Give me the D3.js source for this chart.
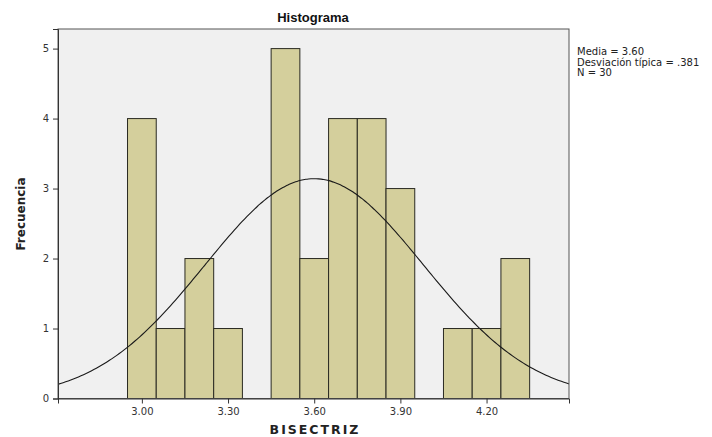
<!DOCTYPE html>
<html>
<head>
<meta charset="utf-8">
<script src="https://cdn.jsdelivr.net/npm/d3@7"></script>
<style>
  body { margin: 0; background: #fff; }
  svg { display: block; font-family: "DejaVu Sans", Arial, sans-serif; }
</style>
</head>
<body>
<div id="chart"></div>
<script>
// ── Data ─────────────────────────────────────────────────────────────────────
const binCenters = [3.0, 3.1, 3.2, 3.3, 3.4, 3.5, 3.6, 3.7, 3.8, 3.9, 4.0, 4.1, 4.2, 4.3];
const binCounts  = [4,   1,   2,   1,   0,   5,   2,   4,   4,   3,   0,   1,   1,   2];
const binWidth   = 0.1;
const xTicks     = [3.0, 3.3, 3.6, 3.9, 4.2];
const yTicks     = [0, 1, 2, 3, 4, 5];
const stats      = { mean: 3.60, sd: 0.381, n: 30 };
const statLines  = ["Media = 3.60", "Desviación típica = .381", "N = 30"];

(function () {
  "use strict";

  const W = 712, H = 437;
  const margin = { top: 29, right: 143, bottom: 38.5, left: 58 };
  const FONT = "'DejaVu Sans', Arial, sans-serif";

  const svg = d3.select("#chart").append("svg")
    .attr("width", W).attr("height", H);

  const x = d3.scaleLinear().domain([2.708, 4.487]).range([margin.left, W - margin.right]);
  const y = d3.scaleLinear().domain([0, 5.28]).range([H - margin.bottom, margin.top]);

  // plot background
  svg.append("rect")
    .attr("x", margin.left).attr("y", margin.top)
    .attr("width", W - margin.left - margin.right)
    .attr("height", H - margin.top - margin.bottom)
    .attr("fill", "#f0f0f0");

  svg.append("clipPath").attr("id", "plotclip")
    .append("rect")
    .attr("x", margin.left).attr("y", margin.top)
    .attr("width", W - margin.left - margin.right)
    .attr("height", H - margin.top - margin.bottom);

  // bars
  svg.append("g").selectAll("rect")
    .data(binCenters.map((c, i) => ({ c, n: binCounts[i] })).filter(d => d.n > 0))
    .join("rect")
    .attr("x", d => x(d.c - binWidth / 2))
    .attr("y", d => y(d.n))
    .attr("width", d => x(d.c + binWidth / 2) - x(d.c - binWidth / 2))
    .attr("height", d => y(0) - y(d.n))
    .attr("fill", "#d4cf9c")
    .attr("stroke", "#2a2a22")
    .attr("stroke-width", 1);

  // normal curve fitted from the stats shown in the legend
  const xs = d3.range(0, 201).map(i => x.domain()[0] + (x.domain()[1] - x.domain()[0]) * i / 200);
  const dens = v => stats.n * binWidth / (stats.sd * Math.sqrt(2 * Math.PI)) *
    Math.exp(-0.5 * Math.pow((v - stats.mean) / stats.sd, 2));
  svg.append("path")
    .datum(xs)
    .attr("clip-path", "url(#plotclip)")
    .attr("d", d3.line().x(d => x(d)).y(d => y(dens(d))).curve(d3.curveMonotoneX))
    .attr("fill", "none")
    .attr("stroke", "#1a1a1a")
    .attr("stroke-width", 1.1);

  // plot border
  svg.append("rect")
    .attr("x", margin.left).attr("y", margin.top)
    .attr("width", W - margin.left - margin.right)
    .attr("height", H - margin.top - margin.bottom)
    .attr("fill", "none")
    .attr("stroke", "#555")
    .attr("stroke-width", 1);

  // axes
  const xAxis = svg.append("g")
    .attr("transform", `translate(0,${H - margin.bottom})`)
    .call(d3.axisBottom(x).tickValues(xTicks).tickFormat(d3.format(".2f")).tickSize(5).tickPadding(4));
  const yAxis = svg.append("g")
    .attr("transform", `translate(${margin.left},0)`)
    .call(d3.axisLeft(y).tickValues(yTicks).tickFormat(d3.format("d")).tickSize(5).tickPadding(4));
  [xAxis, yAxis].forEach(a => {
    a.select(".domain").attr("stroke", "#333");
    a.selectAll(".tick line").attr("stroke", "#333");
    a.selectAll(".tick text")
      .attr("font-size", 10)
      .attr("font-family", FONT)
      .attr("fill", "#333");
  });

  // title & axis labels
  svg.append("text")
    .attr("x", 313).attr("y", 22)
    .attr("text-anchor", "middle")
    .attr("font-size", 13).attr("font-weight", "bold")
    .attr("font-family", "'Liberation Sans', Arial, sans-serif")
    .attr("fill", "#111")
    .text("Histograma");

  svg.append("text")
    .attr("x", 315).attr("y", 434)
    .attr("text-anchor", "middle")
    .attr("font-size", 12.5).attr("font-weight", "bold")
    .attr("letter-spacing", 2)
    .attr("fill", "#222")
    .text("BISECTRIZ");

  svg.append("text")
    .attr("transform", "translate(25,214) rotate(-90)")
    .attr("text-anchor", "middle")
    .attr("font-size", 12).attr("font-weight", "bold")
    .attr("fill", "#222")
    .text("Frecuencia");

  // stats block
  svg.append("g").selectAll("text")
    .data(statLines)
    .join("text")
    .attr("x", 577)
    .attr("y", (d, i) => 55 + i * 10.5)
    .attr("font-size", 10)
    .attr("fill", "#222")
    .text(d => d);
})();
</script>
</body>
</html>
